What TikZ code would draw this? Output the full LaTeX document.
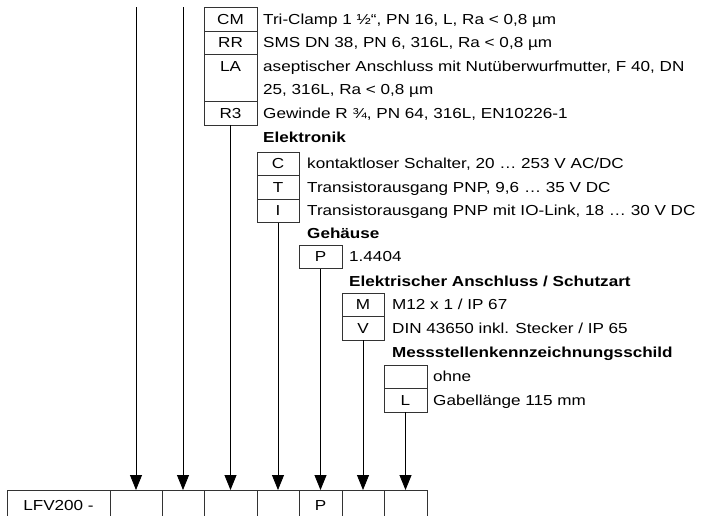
\documentclass[tikz,border=0pt]{standalone}
\usepackage{fontspec}
\setmainfont[FakeStretch=1.18]{Liberation Sans}
\usetikzlibrary{arrows.meta,calc,positioning}

\begin{document}
\begin{tikzpicture}[x=1pt,y=1pt,line cap=butt,font=\fontsize{14.5pt}{16pt}\selectfont]
  % ----- styles -----
  \tikzset{
    cell/.style={draw=black!80,line width=0.8pt,inner sep=0pt,outer sep=0pt,
      minimum height=23.5pt,text height=10.4pt,text depth=0pt},
    txt/.style={inner sep=0pt,anchor=west,text height=10.4pt,text depth=0pt},
    head/.style={txt,font=\fontsize{14.5pt}{16pt}\selectfont\bfseries},
    feed/.style={draw=black,line width=0.8pt,-{Triangle[length=15pt,width=12pt]}}
  }

  \useasboundingbox (0,0) rectangle (704,-516);
  \clip (0,0) rectangle (704,-516);

  % ----- type code row -----
  \node[cell,anchor=north west,minimum width=103pt,minimum height=30pt] (k0) at (7,-490) {LFV200 -};
  \node[cell,minimum width=52pt,minimum height=30pt,right=0pt of k0] (k1) {};
  \node[cell,minimum width=42pt,minimum height=30pt,right=0pt of k1] (k2) {};
  \node[cell,minimum width=53pt,minimum height=30pt,right=0pt of k2] (k3) {};
  \node[cell,minimum width=42pt,minimum height=30pt,right=0pt of k3] (k4) {};
  \node[cell,minimum width=43pt,minimum height=30pt,right=0pt of k4] (k5) {P};
  \node[cell,minimum width=42pt,minimum height=30pt,right=0pt of k5] (k6) {};
  \node[cell,minimum width=43pt,minimum height=30pt,right=0pt of k6] (k7) {};

  % ----- process connection -----
  \node[cell,anchor=north west,minimum width=53pt] (CM) at (204,-7.5) {CM};
  \node[cell,minimum width=53pt,below=0pt of CM] (RR) {RR};
  \node[cell,minimum width=53pt,minimum height=47pt,text depth=23.5pt,below=0pt of RR] (LA) {LA};
  \node[cell,minimum width=53pt,below=0pt of LA] (R3) {R3};
  \node[txt,right=6pt of CM] (tCM) {Tri-Clamp 1 ½“, PN 16, L, Ra < 0,8 µm};
  \node[txt,right=6pt of RR] (tRR) {SMS DN 38, PN 6, 316L, Ra < 0,8 µm};
  \node[txt] (tLA) at ($(LA.north east)+(6,-11.75)$) {aseptischer Anschluss mit Nutüberwurfmutter, F 40, DN};
  \node[txt] (tLAb) at ($(tLA.west)+(0,-23.5)$) {25, 316L, Ra < 0,8 µm};
  \node[txt,right=6pt of R3] (tR3) {Gewinde R ¾, PN 64, 316L, EN10226-1};

  % ----- electronics -----
  \coordinate (yEl) at (0,-137.5);
  \node[head] (hEl) at (tCM.west |- yEl) {Elektronik};
  \node[cell,anchor=north west,minimum width=42pt] (C) at (257,-152) {C};
  \node[cell,minimum width=42pt,below=0pt of C] (T) {T};
  \node[cell,minimum width=42pt,below=0pt of T] (I) {I};
  \node[txt,right=8pt of C] (tC) {kontaktloser Schalter, 20 … 253 V AC/DC};
  \node[txt,right=8pt of T] (tT) {Transistorausgang PNP, 9,6 … 35 V DC};
  \node[txt,right=8pt of I] (tI) {Transistorausgang PNP mit IO-Link, 18 … 30 V DC};

  % ----- housing -----
  \coordinate (yGe) at (0,-233);
  \node[head] (hGe) at (tC.west |- yGe) {Gehäuse};
  \node[cell,anchor=north west,minimum width=43pt] (P) at (299,-245) {P};
  \node[txt,right=7pt of P] (tP) {1.4404};

  % ----- electrical connection -----
  \coordinate (yEA) at (0,-281);
  \node[head] (hEA) at (tP.west |- yEA) {Elektrischer Anschluss / Schutzart};
  \node[cell,anchor=north west,minimum width=42pt] (M) at (342,-293) {M};
  \node[cell,minimum width=42pt,below=0pt of M] (V) {V};
  \node[txt,right=8pt of M] (tM) {M12 x 1 / IP 67};
  \node[txt,right=8pt of V] (tV) {DIN 43650 inkl. Stecker / IP 65};

  % ----- tag plate -----
  \coordinate (yMS) at (0,-352);
  \node[head] (hMS) at (tM.west |- yMS) {Messstellenkennzeichnungsschild};
  \node[cell,anchor=north west,minimum width=43pt] (N) at (384,-365) {};
  \node[cell,minimum width=43pt,below=0pt of N] (L) {L};
  \node[txt,right=6pt of N] (tN) {ohne};
  \node[txt,right=6pt of L] (tL) {Gabellänge 115 mm};

  % ----- feed lines -----
  \coordinate (top1) at (k1.north |- CM.north);
  \coordinate (top2) at (k2.north |- CM.north);
  \draw[feed] (top1) -- (k1);
  \draw[feed] (top2) -- (k2);
  \draw[feed] (R3) -- (k3);
  \draw[feed] (I) -- (k4);
  \draw[feed] (P) -- (k5);
  \draw[feed] (V) -- (k6);
  \draw[feed] (L) -- (k7);

\end{tikzpicture}
\end{document}
